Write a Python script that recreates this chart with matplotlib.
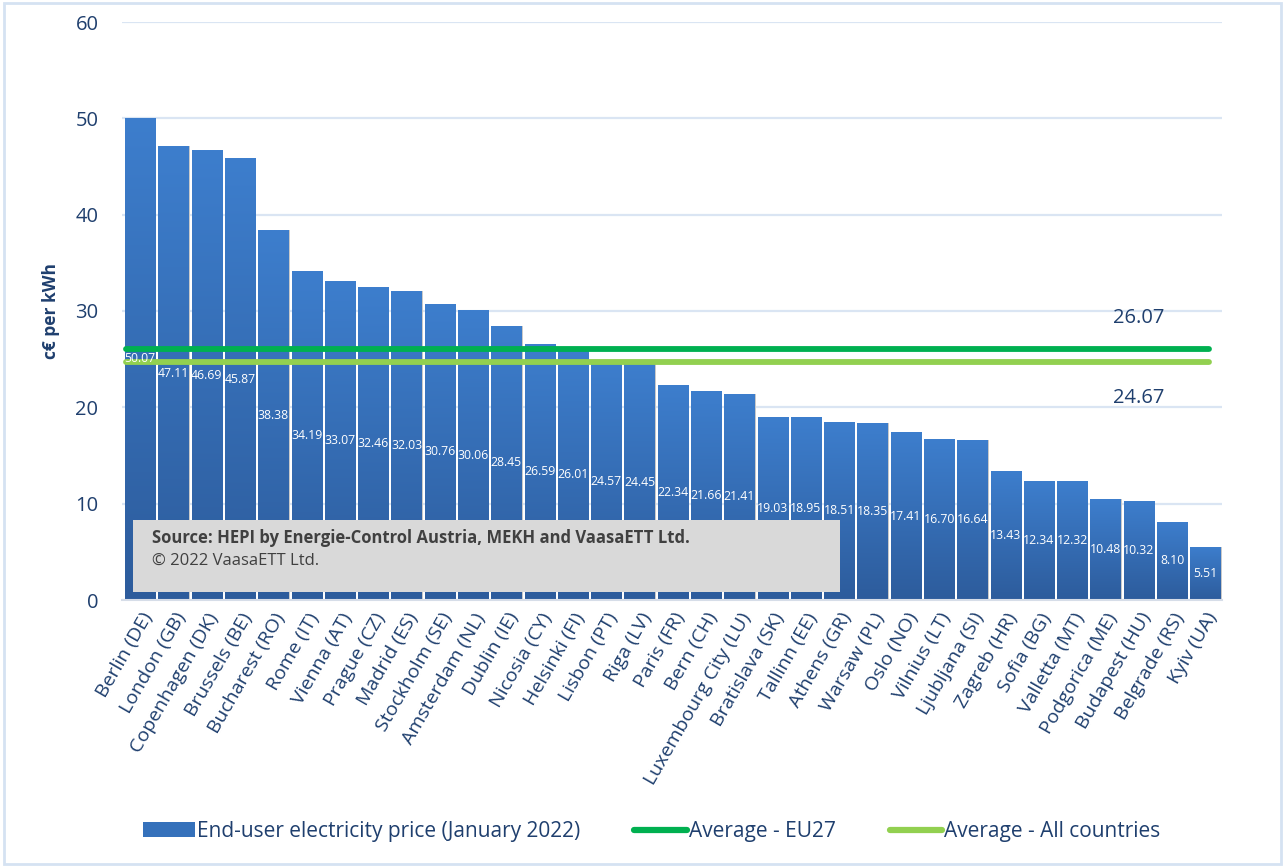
import numpy as np
import matplotlib
matplotlib.use('Agg')
import matplotlib.pyplot as plt
from matplotlib.patches import Rectangle, Patch
from matplotlib.lines import Line2D
from matplotlib.colors import LinearSegmentedColormap

# data
cities = ['Berlin (DE)', 'London (GB)', 'Copenhagen (DK)', 'Brussels (BE)', 'Bucharest (RO)',
          'Rome (IT)', 'Vienna (AT)', 'Prague (CZ)', 'Madrid (ES)', 'Stockholm (SE)',
          'Amsterdam (NL)', 'Dublin (IE)', 'Nicosia (CY)', 'Helsinki (FI)', 'Lisbon (PT)',
          'Riga (LV)', 'Paris (FR)', 'Bern (CH)', 'Luxembourg City (LU)', 'Bratislava (SK)',
          'Tallinn (EE)', 'Athens (GR)', 'Warsaw (PL)', 'Oslo (NO)', 'Vilnius (LT)',
          'Ljubljana (SI)', 'Zagreb (HR)', 'Sofia (BG)', 'Valletta (MT)', 'Podgorica (ME)',
          'Budapest (HU)', 'Belgrade (RS)', 'Kyiv (UA)']
prices = [50.07, 47.11, 46.69, 45.87, 38.38, 34.19, 33.07, 32.46, 32.03, 30.76,
          30.06, 28.45, 26.59, 26.01, 24.57, 24.45, 22.34, 21.66, 21.41, 19.03,
          18.95, 18.51, 18.35, 17.41, 16.70, 16.64, 13.43, 12.34, 12.32, 10.48,
          10.32, 8.10, 5.51]
avg_eu27 = 26.07
avg_all = 24.67

navy = '#1f3f6e'
bar_top = '#3d7ecd'
bar_bottom = '#2d5c9c'
green_dark = '#00b050'
green_light = '#92d050'

plt.rcParams['font.family'] = ['Open Sans', 'DejaVu Sans']

fig = plt.figure(figsize=(12.85, 8.67), dpi=100)
ax = fig.add_axes([122/1285, 1 - 600/867, 1100/1285, 578/867])

x = np.arange(len(cities))
width = 0.91
bars = ax.bar(x, prices, width=width, color=bar_top, zorder=2, linewidth=0)

# gradient fill for each bar
cmap = LinearSegmentedColormap.from_list('barg', [bar_bottom, bar_top])
grad = np.linspace(0, 1, 256).reshape(-1, 1)
for b in bars:
    x0, w, h = b.get_x(), b.get_width(), b.get_height()
    im = ax.imshow(grad, cmap=cmap, aspect='auto', origin='lower',
                   extent=(x0, x0 + w, 0, h), zorder=2.1,
                   vmin=0, vmax=1)
    im.set_clip_path(b)
    # light edge shadow to right
    ax.add_patch(Rectangle((x0 + w, 0), 0.03, h, color='#c9c9c9', zorder=1.9, linewidth=0))

# value labels in the middle of each bar
for xi, v in zip(x, prices):
    ax.text(xi, v / 2, f'{v:.2f}', ha='center', va='center', color='white',
            fontsize=8.8, zorder=4)

# average lines
ax.plot([-0.42, 32.1], [avg_eu27, avg_eu27], color=green_dark, lw=4.2,
        solid_capstyle='round', zorder=3)
ax.plot([-0.42, 32.1], [avg_all, avg_all], color=green_light, lw=4.2,
        solid_capstyle='round', zorder=3)
ax.text(30.0, 29.3, f'{avg_eu27:.2f}', color=navy, fontsize=14.5, ha='center', va='center')
ax.text(30.0, 21.0, f'{avg_all:.2f}', color=navy, fontsize=14.5, ha='center', va='center')

ax.set_xlim(-0.55, 32.5)
ax.set_ylim(0, 60)
ax.set_yticks(range(0, 61, 10))
ax.set_yticklabels([str(t) for t in range(0, 61, 10)], color=navy, fontsize=14.5)
ax.set_xticks(x)
ax.set_xticklabels(cities, rotation=60, ha='right', rotation_mode='anchor',
                   color=navy, fontsize=14)
ax.tick_params(axis='both', length=0)
ax.tick_params(axis='y', pad=17)
ax.tick_params(axis='x', pad=7)
ax.grid(axis='y', color='#dae5f3', lw=1.6, zorder=0)
ax.set_axisbelow(True)
for s in ['top', 'right', 'left']:
    ax.spines[s].set_visible(False)
ax.spines['bottom'].set_color('#d6dde8')
ax.spines['bottom'].set_linewidth(1.5)

ax.set_ylabel('c€ per kWh', color=navy, fontsize=12.5, fontweight='bold')
ax.yaxis.set_label_coords(-0.056, 0.5)

# source box
ax.add_patch(Rectangle((0.010, 0.014), 0.643, 0.124, transform=ax.transAxes,
                       facecolor='#d9d9d9', edgecolor='none', zorder=5))
ax.text(0.027, 0.108, 'Source: HEPI by Energie-Control Austria, MEKH and VaasaETT Ltd.',
        transform=ax.transAxes, fontsize=12, fontweight='bold', color='#404040',
        va='center', zorder=6)
ax.text(0.027, 0.067, '© 2022 VaasaETT Ltd.', transform=ax.transAxes,
        fontsize=12, color='#404040', va='center', zorder=6)

# legend
handles = [Patch(facecolor='#3571bb', edgecolor='none'),
           Line2D([0], [0], color=green_dark, lw=4.5, solid_capstyle='round'),
           Line2D([0], [0], color=green_light, lw=4.5, solid_capstyle='round')]
labels = ['End-user electricity price (January 2022)', 'Average - EU27', 'Average - All countries']
fig.legend(handles, labels, loc='center', bbox_to_anchor=(0.507, 0.041), ncol=3,
           frameon=False, fontsize=15, labelcolor=navy, handlelength=2.5,
           handletextpad=0.1, columnspacing=2.6)

# outer frame
fig.patches.append(Rectangle((0.003, 0.004), 0.994, 0.992, transform=fig.transFigure,
                             fill=False, edgecolor='#d5e2f2', lw=2))

fig.savefig('out.png', dpi=100)
